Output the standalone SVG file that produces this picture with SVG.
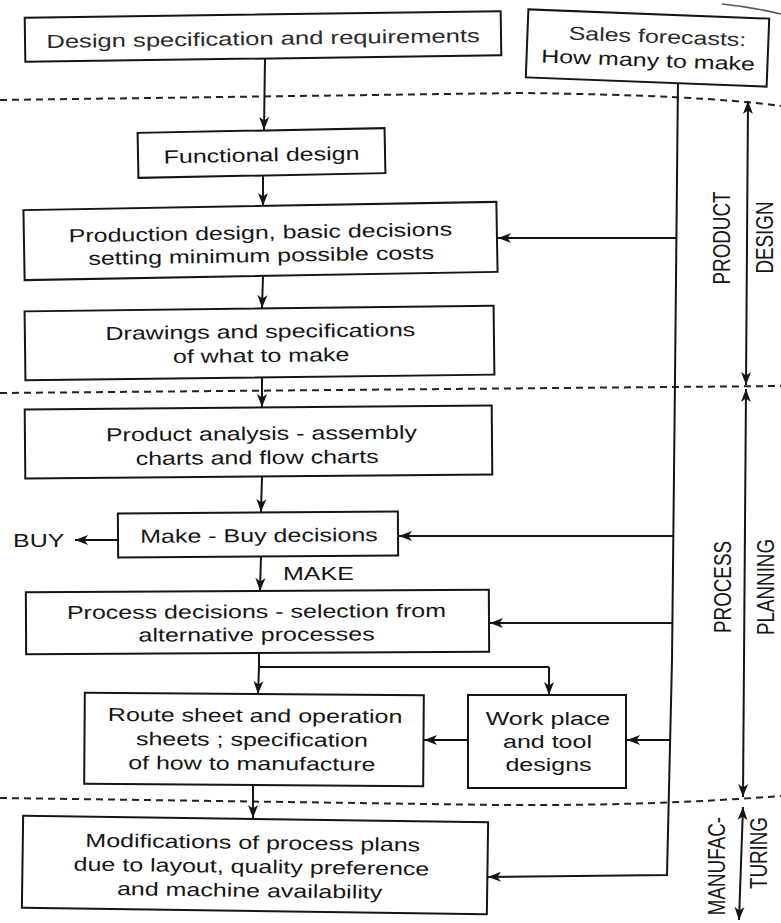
<svg xmlns="http://www.w3.org/2000/svg" width="781" height="923" viewBox="0 0 781 923">
<defs>
<style>
.box{fill:#fff;stroke:#151515;stroke-width:2}
.ln{fill:none;stroke:#151515;stroke-width:2}
.dash{fill:none;stroke:#222;stroke-width:2;stroke-dasharray:7 5}
.t{font-family:"Liberation Sans",Arial,Helvetica,sans-serif;font-size:18.8px;fill:#151515;text-anchor:middle}
.ts{font-family:"Liberation Sans",Arial,Helvetica,sans-serif;font-size:18.8px;fill:#151515}
.lt{fill:#2a2a2a}
</style>
<marker id="ah" viewBox="-14 -6 15 12" refX="0" refY="0" markerWidth="15" markerHeight="12" orient="auto-start-reverse" markerUnits="userSpaceOnUse">
<path d="M0,0 L-13,-5 L-9.5,0 L-13,5 Z" fill="#151515"/>
</marker>
</defs>
<rect width="781" height="923" fill="#fff"/>
<path d="M722,4 Q752,7 781,14" fill="none" stroke="#555" stroke-width="1.5"/>

<g id="separators">
<path class="dash" d="M0,100 L520,93 Q700,95 781,106"/>
<path class="dash" d="M0,393 L781,386"/>
<path class="dash" d="M0,798 L500,805 Q650,806 781,796"/>
</g>

<g id="connectors">
<path class="ln" d="M265,58 L264,130" marker-end="url(#ah)"/>
<path class="ln" d="M263,176 L263,206" marker-end="url(#ah)"/>
<path class="ln" d="M263,276 L262,308" marker-end="url(#ah)"/>
<path class="ln" d="M262,377 L262,407" marker-end="url(#ah)"/>
<path class="ln" d="M262,476 L261,512" marker-end="url(#ah)"/>
<path class="ln" d="M261,556 L260,591" marker-end="url(#ah)"/>
<path class="ln" d="M259,653 L259,667 L549,667"/>
<path class="ln" d="M259,667 L258,694" marker-end="url(#ah)"/>
<path class="ln" d="M549,667 L549,695" marker-end="url(#ah)"/>
<path class="ln" d="M468,740 L424,740" marker-end="url(#ah)"/>
<path class="ln" d="M253,785 L253,818" marker-end="url(#ah)"/>
<path class="ln" d="M118,540 L75,540" marker-end="url(#ah)"/>
<path class="ln" d="M678,78 L675,380 L672,660 L667,875 L488,877" marker-end="url(#ah)"/>
<path class="ln" d="M677,238 L498,238" marker-end="url(#ah)"/>
<path class="ln" d="M674,536 L399,536" marker-end="url(#ah)"/>
<path class="ln" d="M673,623 L490,623" marker-end="url(#ah)"/>
<path class="ln" d="M671,740 L627,740" marker-end="url(#ah)"/>
<path class="ln" d="M748,101 L746,385" marker-start="url(#ah)" marker-end="url(#ah)"/>
<path class="ln" d="M746,389 L743,797" marker-start="url(#ah)" marker-end="url(#ah)"/>
<path class="ln" d="M743,807 L739,920" marker-start="url(#ah)" marker-end="url(#ah)"/>
<text class="ts" transform="translate(13,547) scale(1.33 1)">BUY</text>
<text class="ts" transform="translate(283,580) scale(1.33 1)">MAKE</text>
</g>

<g id="design-spec" transform="rotate(-0.8 263 36.5)">
<rect class="box" x="25" y="14.5" width="476" height="44"/>
<text class="t lt" transform="translate(263,45) scale(1.36 1)">Design specification and requirements</text>
</g>

<g id="sales-forecasts" transform="rotate(2.2 647.5 48)">
<rect class="box" x="527" y="14" width="241" height="68"/>
<text class="t lt" transform="translate(657,42.5) scale(1.33 1)">Sales forecasts:</text>
<text class="t" transform="translate(648.5,66.5) scale(1.33 1)">How many to make</text>
</g>

<g id="functional-design" transform="rotate(-1.1 261.5 153)">
<rect class="box" x="138" y="130.5" width="247" height="45"/>
<text class="t" transform="translate(261.5,161.5) scale(1.33 1)">Functional design</text>
</g>

<g id="production-design" transform="rotate(-1 260.5 241)">
<rect class="box" x="24" y="206" width="473" height="70"/>
<text class="t" transform="translate(260.5,239) scale(1.33 1)">Production design, basic decisions</text>
<text class="t" transform="translate(261,262) scale(1.33 1)">setting minimum possible costs</text>
</g>

<g id="drawings" transform="rotate(-0.7 259.5 343)">
<rect class="box" x="25" y="308.5" width="469" height="69"/>
<text class="t" transform="translate(260.5,338) scale(1.33 1)">Drawings and specifications</text>
<text class="t" transform="translate(261,362) scale(1.33 1)">of what to make</text>
</g>

<g id="product-analysis" transform="rotate(-0.5 258.5 442)">
<rect class="box" x="25" y="407.5" width="467" height="69"/>
<text class="t" transform="translate(261.5,440) scale(1.33 1)">Product analysis - assembly</text>
<text class="t" transform="translate(257,464) scale(1.33 1)">charts and flow charts</text>
</g>

<g id="make-buy" transform="rotate(-0.4 258 534.5)">
<rect class="box" x="118" y="512.5" width="280" height="44"/>
<text class="t" transform="translate(259,542) scale(1.33 1)">Make - Buy decisions</text>
</g>

<g id="process-decisions" transform="rotate(-0.3 257.5 622)">
<rect class="box" x="26" y="591" width="463" height="62"/>
<text class="t" transform="translate(256.5,618) scale(1.33 1)">Process decisions - selection from</text>
<text class="t" transform="translate(256.5,641) scale(1.33 1)">alternative processes</text>
</g>

<g id="route-sheet" transform="rotate(0.4 254 739.5)">
<rect class="box" x="84.5" y="694" width="339" height="91"/>
<text class="t" transform="translate(255,722) scale(1.33 1)">Route sheet and operation</text>
<text class="t" transform="translate(252,746) scale(1.33 1)">sheets ; specification</text>
<text class="t" transform="translate(252,770) scale(1.33 1)">of how to manufacture</text>
</g>

<g id="work-place">
<rect class="box" x="468" y="695" width="158" height="93"/>
<text class="t" transform="translate(548,725) scale(1.33 1)">Work place</text>
<text class="t" transform="translate(547.5,748) scale(1.33 1)">and tool</text>
<text class="t" transform="translate(548.5,771) scale(1.33 1)">designs</text>
</g>

<g id="modifications" transform="rotate(0.8 255 865)">
<rect class="box" x="22.5" y="819" width="465" height="92"/>
<text class="t" transform="translate(252.5,849) scale(1.33 1)">Modifications of process plans</text>
<text class="t" transform="translate(251.5,873) scale(1.33 1)">due to layout, quality preference</text>
<text class="t" transform="translate(250,897) scale(1.33 1)">and machine availability</text>
</g>

<g id="phase-labels">
<text class="t" transform="translate(730,238) rotate(-90) scale(1 1.3)">PRODUCT</text>
<text class="t" transform="translate(773,237.5) rotate(-90) scale(1 1.3)">DESIGN</text>
<text class="t" transform="translate(731,587) rotate(-90) scale(1 1.3)">PROCESS</text>
<text class="t" transform="translate(774,587) rotate(-90) scale(1 1.3)">PLANNING</text>
<text class="ts" text-anchor="end" transform="translate(725,817) rotate(-90) scale(1 1.3)">MANUFAC-</text>
<text class="ts" text-anchor="end" transform="translate(767,817) rotate(-90) scale(1 1.3)">TURING</text>
</g>
</svg>
